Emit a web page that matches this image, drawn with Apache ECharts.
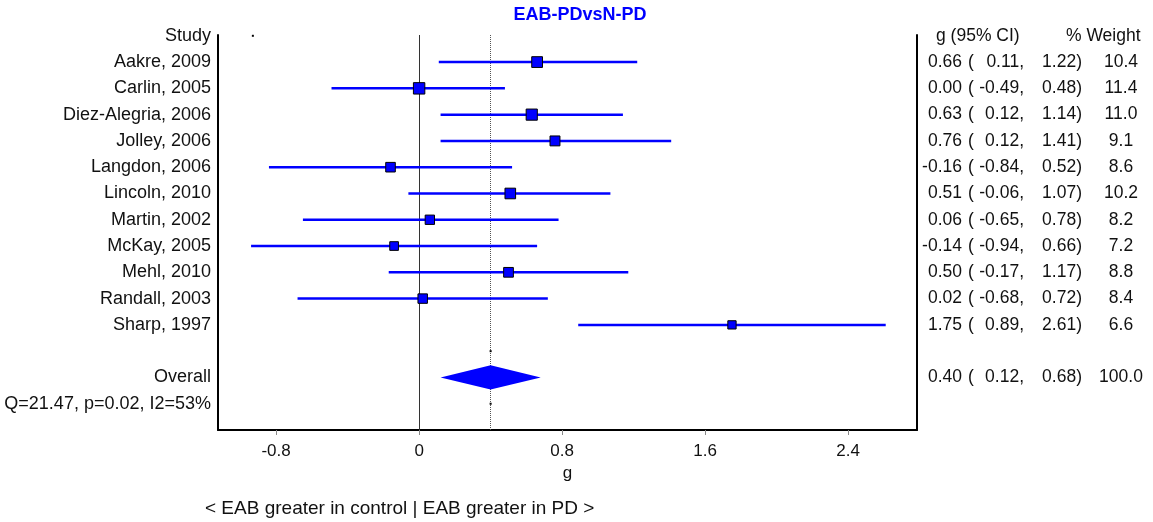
<!DOCTYPE html>
<html>
<head>
<meta charset="utf-8">
<script src="https://cdn.jsdelivr.net/npm/echarts@6/dist/echarts.min.js"></script>
<style>
  html, body { margin: 0; padding: 0; background: #fff; }
  #chart { width: 1153px; height: 522px; }
</style>
</head>
<body>
<div id="chart"></div>
<script>
// studies, effect sizes (g), 95% CI and weights
const studies = ['Aakre, 2009', 'Carlin, 2005', 'Diez-Alegria, 2006', 'Jolley, 2006', 'Langdon, 2006',
  'Lincoln, 2010', 'Martin, 2002', 'McKay, 2005', 'Mehl, 2010', 'Randall, 2003', 'Sharp, 1997'];
const g = [0.66, 0.00, 0.63, 0.76, -0.16, 0.51, 0.06, -0.14, 0.50, 0.02, 1.75];
const lo = [0.11, -0.49, 0.12, 0.12, -0.84, -0.06, -0.65, -0.94, -0.17, -0.68, 0.89];
const hi = [1.22, 0.48, 1.14, 1.41, 0.52, 1.07, 0.78, 0.66, 1.17, 0.72, 2.61];
const weight = [10.4, 11.4, 11.0, 9.1, 8.6, 10.2, 8.2, 7.2, 8.8, 8.4, 6.6];

const overallG = 0.40;
const overallLo = 0.12;
const overallHi = 0.68;
const overallWeight = 100.0;
const heterogeneity = 'Q=21.47, p=0.02, I2=53%';

const xTicks = [-0.8, 0, 0.8, 1.6, 2.4];
// small stray dots seen in the original
const strayDots = [[-0.93, 0], [0.40, 12], [0.40, 14]];

const xMin = -1.125, xMax = 2.785;
const overallRow = studies.length + 2;
const qRow = overallRow + 1;

const font = 'Liberation Sans';

// columns of text rows: [row, text]
const leftCol = [[0, 'Study']];
const gCol = [], openCol = [], loCol = [], hiCol = [], wCol = [];
function addRow(row, v, l, h, w) {
  gCol.push([row, v.toFixed(2)]);
  openCol.push([row, '(']);
  loCol.push([row, l.toFixed(2) + ',']);
  hiCol.push([row, h.toFixed(2) + ')']);
  wCol.push([row, w.toFixed(1)]);
}
studies.forEach(function (s, i) {
  leftCol.push([i + 1, s]);
  addRow(i + 1, g[i], lo[i], hi[i], weight[i]);
});
leftCol.push([overallRow, 'Overall']);
leftCol.push([qRow, heterogeneity]);
addRow(overallRow, overallG, overallLo, overallHi, overallWeight);
const headers = [[0, 'g (95% CI)'], [0, '% Weight']];

// text placed next to the left or right edge of the plot
function textSeries(col, xVal, dx, align, size) {
  return {
    type: 'scatter',
    clip: false,
    silent: true,
    symbolSize: 0,
    itemStyle: { opacity: 1 },
    data: col.map(function (c) { return { value: [xVal, c[0]], name: c[1] }; }),
    label: {
      show: true, position: 'inside', offset: [dx, 0], align: align, verticalAlign: 'middle',
      formatter: '{b}', fontFamily: font, fontSize: size || 18, color: '#111'
    }
  };
}

const chart = echarts.init(document.getElementById('chart'));

chart.setOption({
  animation: false,
  title: {
    text: 'EAB-PDvsN-PD',
    left: 575,
    top: 1,
    textAlign: 'center',
    textStyle: { fontFamily: font, fontSize: 18, fontWeight: 'bold', color: '#0000ff' }
  },
  grid: { left: 218, right: 236, top: 35, bottom: 92 },
  xAxis: {
    type: 'value',
    min: xMin,
    max: xMax,
    name: 'g',
    nameLocation: 'middle',
    nameGap: 28,
    nameTextStyle: { fontFamily: font, fontSize: 17, color: '#111' },
    axisLine: { onZero: false, lineStyle: { color: '#000', width: 2 } },
    axisTick: { customValues: xTicks, length: 5, lineStyle: { color: '#888' } },
    axisLabel: { customValues: xTicks, margin: 13, fontFamily: font, fontSize: 17, color: '#111' },
    splitLine: { show: false }
  },
  yAxis: [
    {
      type: 'value', min: -0.03, max: 15, inverse: true,
      axisLine: { show: true, onZero: false, lineStyle: { color: '#000', width: 2 } },
      axisTick: { show: false }, axisLabel: { show: false }, splitLine: { show: false }
    },
    {
      type: 'value', min: -0.03, max: 15, inverse: true, position: 'right',
      axisLine: { show: true, onZero: false, lineStyle: { color: '#000', width: 2 } },
      axisTick: { show: false }, axisLabel: { show: false }, splitLine: { show: false }
    }
  ],
  graphic: [{
    type: 'text',
    left: 205,
    top: 499,
    style: { text: '< EAB greater in control | EAB greater in PD >', fontFamily: font, fontSize: 19, fill: '#111' }
  }],
  series: [
    {
      // confidence intervals
      type: 'custom',
      clip: false,
      data: studies.map(function (s, i) { return [lo[i], hi[i], i + 1]; }),
      encode: { x: [0, 1], y: 2 },
      renderItem: function (params, api) {
        const a = api.coord([api.value(0), api.value(2)]);
        const b = api.coord([api.value(1), api.value(2)]);
        return { type: 'line', shape: { x1: a[0], y1: a[1], x2: b[0], y2: b[1] }, style: { stroke: '#0000ff', lineWidth: 2.5 } };
      },
      z: 3
    },
    {
      // point estimates, sized by weight
      type: 'scatter',
      symbol: 'rect',
      data: g.map(function (v, i) { return [v, i + 1, weight[i]]; }),
      symbolSize: function (d) { return 4 + d[2] * 0.65; },
      itemStyle: { color: '#0000ff', borderColor: '#000', borderWidth: 1, opacity: 1 },
      z: 5,
      markLine: {
        silent: true,
        symbol: 'none',
        label: { show: false },
        data: [
          { xAxis: 0, lineStyle: { type: 'solid', color: '#333', width: 1 } },
          { xAxis: overallG, lineStyle: { type: 'dotted', color: '#555', width: 1 } }
        ],
        z: 1
      }
    },
    {
      // overall diamond
      type: 'custom',
      data: [[overallLo, overallG, overallHi, overallRow]],
      encode: { x: [0, 2], y: 3 },
      renderItem: function (params, api) {
        const y = api.value(3);
        const pts = [
          api.coord([api.value(0), y]),
          api.coord([api.value(1), y - 0.46]),
          api.coord([api.value(2), y]),
          api.coord([api.value(1), y + 0.46])
        ];
        return { type: 'polygon', shape: { points: pts }, style: { fill: '#0000ff' } };
      },
      z: 4
    },
    {
      type: 'scatter',
      symbol: 'rect',
      symbolSize: 2,
      data: strayDots,
      itemStyle: { color: '#000', opacity: 1 },
      z: 6
    },
    textSeries(leftCol, xMin, -7, 'right'),
    textSeries(gCol, xMax, 45, 'right', 17.5),
    textSeries(openCol, xMax, 51, 'left', 17.5),
    textSeries(loCol, xMax, 107, 'right', 17.5),
    textSeries(hiCol, xMax, 165, 'right', 17.5),
    textSeries(wCol, xMax, 204, 'center', 17.5),
    textSeries(headers.slice(0, 1), xMax, 19, 'left', 17.5),
    textSeries(headers.slice(1), xMax, 149, 'left', 17.5)
  ]
});
</script>
</body>
</html>
